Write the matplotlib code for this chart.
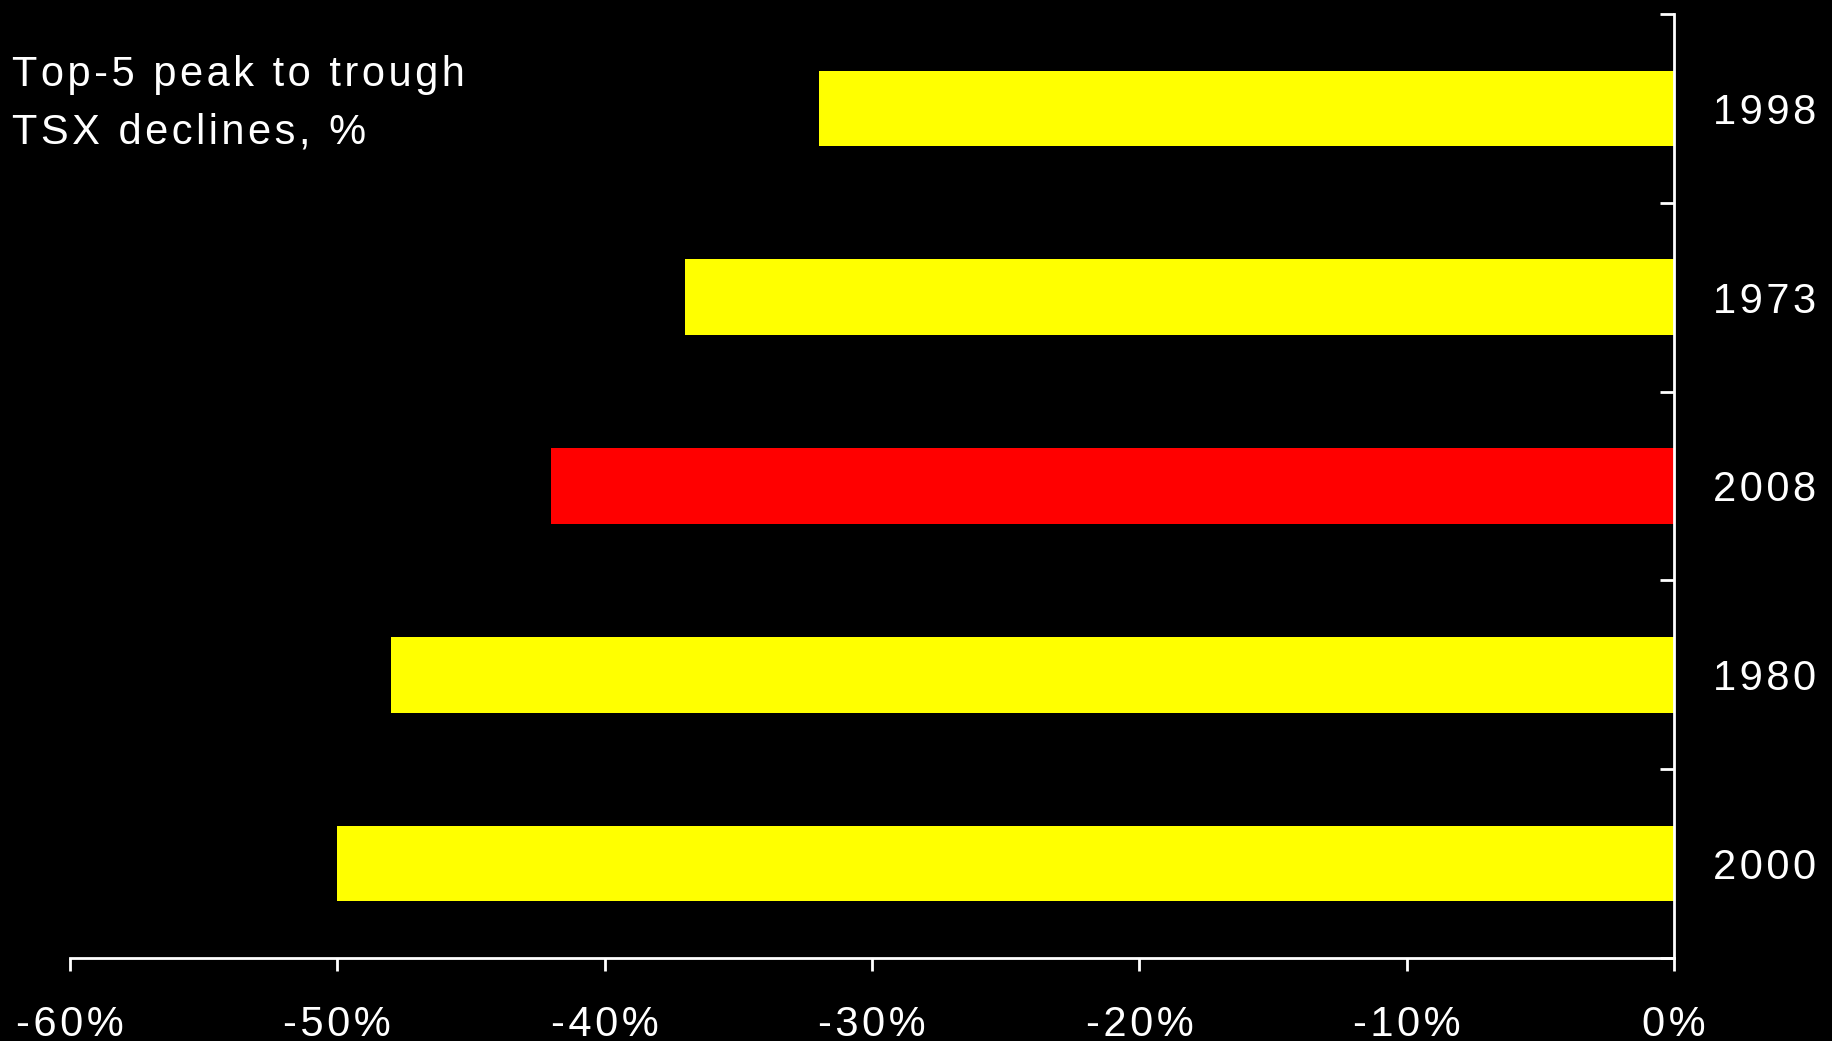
import numpy as np
import matplotlib.pyplot as plt

# Data, bottom to top
years = ['2000', '1980', '2008', '1973', '1998']
declines = [-50, -48, -42, -37, -32]
bar_colors = ['#FFFF00', '#FFFF00', '#FF0000', '#FFFF00', '#FFFF00']
xticks = [-60, -50, -40, -30, -20, -10, 0]

plt.rcParams['font.family'] = ['Liberation Sans', 'DejaVu Sans']

HS = '\u200a'  # hair space, used for the loose letter spacing


def track(s):
    return HS.join(s)


fig = plt.figure(figsize=(18.32, 10.41), dpi=100, facecolor='black')
ax = fig.add_axes([0.0382, 0.0797, 0.9138 - 0.0382, 0.9866 - 0.0797], facecolor='black')

pos = np.arange(len(years))
ax.barh(pos, declines, height=0.4, color=bar_colors, zorder=2)

ax.set_xlim(-60, 0)
ax.set_ylim(-0.5, len(years) - 0.5)

for side in ['top', 'left']:
    ax.spines[side].set_visible(False)
for side in ['bottom', 'right']:
    ax.spines[side].set_color('white')
    ax.spines[side].set_linewidth(2)

# x ticks
ax.set_xticks(xticks)
ax.set_xticklabels([track(f'{v}%') for v in xticks])
ax.tick_params(axis='x', direction='out', length=9.5, width=2, colors='white',
               labelsize=30, pad=24)

# y: boundary ticks (major, unlabeled) + centred labels (minor, no marks)
ax.yaxis.tick_right()
ax.set_yticks(np.arange(-0.5, len(years), 1.0))
ax.set_yticklabels([])
ax.set_yticks(pos, minor=True)
ax.set_yticklabels([track(y) for y in years], minor=True)
ax.tick_params(axis='y', which='major', direction='in', length=10, width=2, colors='white')
ax.tick_params(axis='y', which='minor', length=0, colors='white', labelsize=30, pad=28)

fig.text(12 / 1832, 1 - 55 / 1041,
         track('Top-5 peak to trough') + '\n' + track('TSX declines, %'),
         color='white', fontsize=30, va='top', ha='left', linespacing=1.55)

fig.savefig('out.png', dpi=100, facecolor='black')
